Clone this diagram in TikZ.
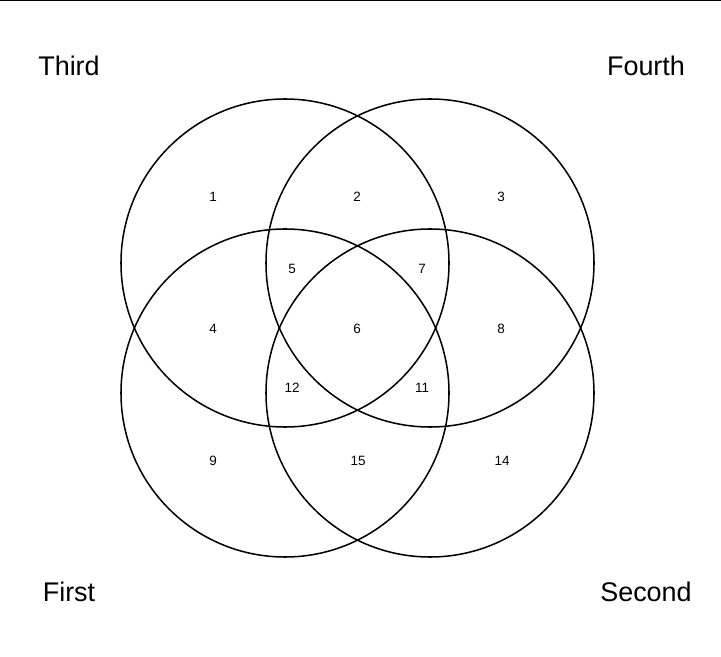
\documentclass[tikz,border=0pt]{standalone}
\usepackage{fontspec}
\setmainfont{Liberation Sans}
\begin{document}
\begin{tikzpicture}[x=0.03cm,y=-0.03cm,
  set/.style={circle,draw,line width=1.3pt,minimum size=9.84cm,inner sep=0pt},
  title/.style={font=\fontsize{23}{26}\selectfont},
  region/.style={font=\fontsize{11.5}{13}\selectfont}]
\useasboundingbox (0,0) rectangle (721,657);
\draw[line width=0.8pt] (0,0) -- (721,0);
% the four sets
\node[set] (third) at (285,263) {};
\node[set] (fourth) at (430,263) {};
\node[set] (first) at (285,393) {};
\node[set] (second) at (430,393) {};
\node[title] (tThird) at (69,66) {Third};
\node[title] (tFourth) at (646,66) {Fourth};
\node[title] (tFirst) at (69,592) {First};
\node[title] (tSecond) at (646,592) {Second};
% region numbers
\foreach \n/\x/\y in {1/213/197,2/357/197,3/501/197,5/292/269,7/422/269,
  4/213/329,6/357/329,8/501/329,12/292/388,11/422/388,9/213/461,15/358/461,14/502/461}
  \node[region] (r\n) at (\x,\y) {\n};
\end{tikzpicture}
\end{document}
